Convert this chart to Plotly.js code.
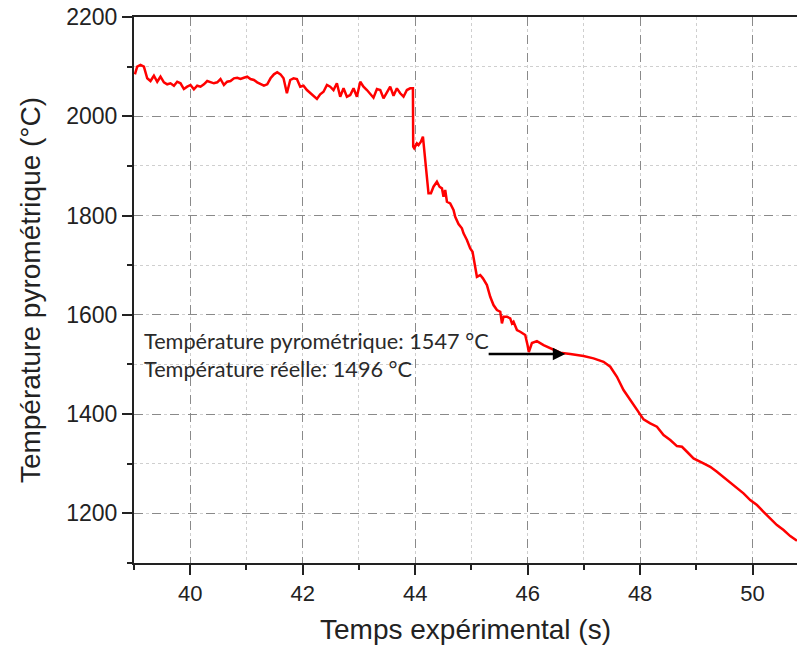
<!DOCTYPE html>
<html>
<head>
<meta charset="utf-8">
<script src="https://cdn.plot.ly/plotly-3.0.1.min.js"></script>
<style>html,body{margin:0;padding:0;background:#fff;}#chart{width:797px;height:648px;}</style>
</head>
<body>
<div id="chart"></div>
<script>
const timeSeconds = [39.016,39.057,39.116,39.176,39.235,39.293,39.354,39.413,39.471,39.532,39.590,39.649,39.710,39.768,39.827,39.887,39.946,40.005,40.065,40.124,40.183,40.243,40.302,40.360,40.421,40.480,40.538,40.599,40.657,40.716,40.777,40.835,40.894,40.954,41.013,41.072,41.132,41.191,41.250,41.310,41.369,41.428,41.488,41.547,41.605,41.659,41.719,41.778,41.837,41.897,41.956,42.014,42.075,42.134,42.192,42.253,42.311,42.370,42.431,42.489,42.548,42.608,42.667,42.726,42.786,42.845,42.904,42.964,43.023,43.081,43.142,43.201,43.259,43.320,43.379,43.437,43.498,43.556,43.615,43.675,43.734,43.793,43.853,43.912,43.960,43.962,43.965,43.983,44.031,44.060,44.102,44.138,44.149,44.179,44.209,44.237,44.280,44.326,44.387,44.433,44.476,44.504,44.534,44.565,44.623,44.682,44.712,44.771,44.831,44.860,44.920,44.979,45.020,45.068,45.098,45.157,45.205,45.276,45.335,45.393,45.454,45.513,45.543,45.571,45.632,45.690,45.721,45.749,45.810,45.868,45.957,45.998,46.021,46.076,46.165,46.283,46.402,46.580,46.758,46.994,47.172,47.350,47.469,47.588,47.705,47.824,47.944,48.061,48.180,48.299,48.417,48.536,48.655,48.744,48.833,48.950,49.128,49.247,49.366,49.544,49.722,49.839,49.958,50.078,50.195,50.314,50.433,50.551,50.670,50.789];
const temperatureC = [2084.5,2099.9,2103.3,2100.0,2076.5,2071.0,2081.7,2069.6,2079.7,2068.4,2064.4,2066.4,2061.6,2069.6,2066.4,2054.9,2059.6,2063.0,2054.3,2061.6,2059.6,2064.4,2071.0,2068.4,2066.4,2068.4,2075.1,2063.0,2069.6,2071.0,2076.5,2077.7,2075.1,2077.7,2079.7,2075.1,2073.1,2068.4,2064.4,2061.6,2064.4,2076.5,2084.5,2088.6,2084.5,2076.5,2046.3,2073.1,2076.5,2075.1,2059.6,2061.6,2052.9,2046.3,2041.4,2034.8,2044.2,2049.5,2063.0,2059.6,2052.9,2066.4,2039.4,2056.3,2039.4,2042.8,2056.3,2039.4,2069.6,2059.6,2052.9,2044.2,2037.4,2054.9,2052.9,2036.2,2049.5,2059.6,2041.4,2056.3,2046.3,2039.4,2052.9,2056.3,2056.3,2006.0,1938.6,1935.4,1945.5,1942.1,1948.7,1958.8,1945.5,1901.8,1878.2,1844.8,1844.8,1858.1,1868.1,1858.1,1854.8,1837.9,1851.4,1827.8,1824.6,1811.1,1797.6,1782.9,1774.2,1764.2,1750.7,1733.9,1727.1,1690.2,1676.7,1680.1,1673.5,1660.0,1636.4,1619.7,1609.6,1606.2,1582.8,1596.1,1596.1,1592.9,1582.8,1586.0,1569.3,1565.9,1559.2,1539.1,1525.0,1543.1,1547.1,1539.1,1532.4,1523.6,1520.9,1516.9,1512.3,1505.4,1495.4,1475.2,1448.4,1428.3,1408.1,1389.4,1381.3,1374.5,1357.7,1347.7,1335.6,1334.1,1324.1,1310.8,1300.7,1293.9,1283.8,1267.1,1250.4,1240.3,1226.8,1216.7,1203.2,1189.9,1176.4,1166.3,1154.2,1144.7];
const xTickValues = [40, 42, 44, 46, 48, 50];
const yTickValues = [1200, 1400, 1600, 1800, 2000, 2200];
const noteLines = ["Température pyrométrique: 1547 °C", "Température réelle: 1496 °C"];
const arrowTail = [45.28, 1521];
const arrowHead = [46.67, 1521];

const xTickFont = {family: "Liberation Sans, Arial, sans-serif", size: 22, color: "#222"};
const yTickFont = {family: "Liberation Sans, Arial, sans-serif", size: 23, color: "#222"};
const titleFont = {family: "Liberation Sans, Arial, sans-serif", size: 28, color: "#222"};
const noteFont = {family: "Lato, Open Sans, sans-serif", size: 21.7, color: "#2a2a2a"};

const trace = {
  x: timeSeconds, y: temperatureC, type: "scatter", mode: "lines",
  line: {color: "#ff0000", width: 2.5}, hoverinfo: "skip"
};

const layout = {
  width: 797, height: 648,
  margin: {l: 134, r: 0, t: 17, b: 85, pad: 0},
  paper_bgcolor: "#fff", plot_bgcolor: "#fff",
  showlegend: false,
  xaxis: {
    range: [39, 50.79], tickvals: xTickValues, ticktext: xTickValues.map(String),
    ticks: "outside", ticklen: 10, tickwidth: 2, tickcolor: "#222",
    showline: true, linecolor: "#222", linewidth: 2, mirror: true,
    showgrid: true, gridcolor: "#8a8a8a", gridwidth: 1, griddash: "dash",
    zeroline: false, tickfont: xTickFont,
    minor: {dtick: 1, ticks: "outside", ticklen: 5, tickwidth: 2, tickcolor: "#222", showgrid: true, gridcolor: "#cfcfcf", griddash: "dot", gridwidth: 1},
    title: {text: "Temps expérimental (s)", font: titleFont, standoff: 14}
  },
  yaxis: {
    range: [1100, 2200], tickvals: yTickValues, ticktext: yTickValues.map(String),
    ticks: "outside", ticklen: 10, tickwidth: 2, tickcolor: "#222",
    showline: true, linecolor: "#222", linewidth: 2,
    showgrid: true, gridcolor: "#8a8a8a", gridwidth: 1, griddash: "dash",
    zeroline: false, tickfont: yTickFont,
    minor: {dtick: 100, ticks: "outside", ticklen: 5, tickwidth: 2, tickcolor: "#222", showgrid: true, gridcolor: "#cfcfcf", griddash: "dot", gridwidth: 1},
    title: {text: "Température pyrométrique (°C)", font: titleFont, standoff: 17}
  },
  annotations: [
    {x: arrowHead[0], y: arrowHead[1], xref: "x", yref: "y", ax: arrowTail[0], ay: arrowTail[1], axref: "x", ayref: "y",
     showarrow: true, arrowhead: 2, arrowsize: 1, arrowwidth: 2.5, arrowcolor: "#000", text: ""},
    {x: 39.145, y: 1547, xref: "x", yref: "y", xanchor: "left", yanchor: "middle", showarrow: false, text: noteLines[0], font: noteFont},
    {x: 39.145, y: 1491, xref: "x", yref: "y", xanchor: "left", yanchor: "middle", showarrow: false, text: noteLines[1], font: noteFont}
  ]
};

Plotly.newPlot("chart", [trace], layout, {displayModeBar: false, staticPlot: true});
</script>
</body>
</html>
